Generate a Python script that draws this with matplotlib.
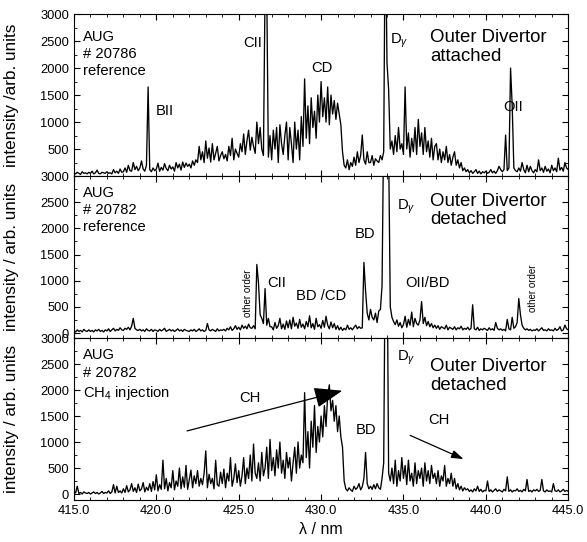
import numpy as np
import matplotlib.pyplot as plt
from matplotlib.ticker import MultipleLocator, FormatStrFormatter

plt.rcParams['font.family'] = ['Liberation Sans', 'DejaVu Sans']
plt.rcParams['mathtext.fontset'] = 'custom'
plt.rcParams['mathtext.rm'] = 'Liberation Sans'
plt.rcParams['mathtext.it'] = 'Liberation Sans:italic'

# wavelength grid, 0.1 nm steps
wavelength = np.round(np.linspace(415.0, 445.0, 301), 1)

# AUG #20786, outer divertor attached (one row per nm)
attached = [
    60, 40, 70, 50, 30, 80, 50, 60, 40, 70,
    50, 90, 40, 60, 110, 50, 40, 70, 60, 50,
    80, 50, 60, 40, 120, 60, 90, 50, 130, 70,
    80, 150, 70, 200, 100, 90, 250, 120, 180, 100,
    150, 280, 130, 90, 200, 1650, 120, 80, 150, 100,
    130, 240, 90, 160, 110, 230, 140, 100, 200, 130,
    170, 90, 250, 150, 220, 110, 260, 160, 240, 180,
    220, 150, 280, 200, 300, 250, 550, 300, 450, 250,
    650, 330, 520, 260, 600, 300, 420, 550, 280, 380,
    450, 320, 400, 280, 550, 380, 700, 300, 500, 420,
    350, 600, 450, 780, 400, 650, 850, 480, 720, 550,
    420, 1000, 600, 900, 500, 380, 3500, 3500, 350, 750,
    300, 850, 500, 900, 250, 950, 600, 400, 750, 1000,
    300, 900, 600, 250, 1000, 500, 850, 300, 1100, 550,
    1800, 700, 1300, 600, 1450, 900, 1200, 700, 1500, 1000,
    1750, 1100, 1450, 1000, 1650, 950, 1500, 1150, 1400, 1050,
    1350, 1150, 950, 450, 200, 150, 300, 120, 250, 180,
    350, 200, 450, 250, 380, 760, 300, 220, 450, 250,
    250, 380, 200, 320, 280, 250, 380, 300, 450, 5000,
    2100, 1600, 500, 650, 400, 750, 450, 900, 500, 600,
    400, 1650, 500, 800, 350, 700, 450, 900, 400, 1050,
    550, 800, 400, 900, 450, 650, 350, 700, 300, 550,
    600, 300, 500, 250, 450, 300, 550, 250, 400, 200,
    350, 450, 200, 300, 150, 250, 100, 150, 80, 120,
    60, 100, 50, 80, 120, 50, 90, 40, 80, 60,
    90, 50, 70, 120, 60, 90, 50, 100, 180, 120,
    80, 120, 760, 100, 150, 2000, 1300, 150, 100, 80,
    150, 90, 250, 120, 60, 200, 80, 180, 100, 60,
    120, 80, 300, 100, 150, 70, 180, 90, 130, 60,
    200, 100, 150, 80, 330, 110, 160, 90, 250, 150,
    120,
]

# AUG #20782, reference, outer divertor detached
detached = [
    40, 20, 60, 30, 50, 20, 70, 40, 30, 60,
    30, 50, 20, 60, 40, 70, 30, 50, 20, 60,
    40, 80, 30, 60, 90, 40, 70, 50, 100, 60,
    50, 90, 70, 110, 60, 130, 280, 90, 60, 50,
    70, 40, 60, 30, 80, 50, 40, 70, 30, 60,
    50, 30, 70, 40, 60, 90, 30, 50, 70, 40,
    60, 30, 50, 80, 40, 60, 30, 70, 50, 40,
    30, 60, 40, 70, 30, 50, 80, 40, 60, 30,
    50, 180, 60, 40, 70, 50, 30, 80, 40, 60,
    50, 70, 40, 90, 60, 120, 50, 80, 140, 70,
    110, 60, 150, 90, 130, 80, 170, 100, 90, 140,
    80, 1310, 960, 350, 280, 180, 850, 150, 280, 120,
    120, 60, 200, 90, 140, 280, 80, 170, 70, 230,
    100, 250, 80, 300, 130, 190, 90, 260, 110, 170,
    80, 220, 120, 330, 100, 180, 70, 280, 120, 160,
    90, 240, 110, 320, 150, 80, 210, 100, 180, 70,
    140, 60, 110, 50, 90, 60, 150, 70, 100, 60,
    110, 150, 80, 120, 90, 100, 1350, 800, 380, 250,
    450, 300, 250, 380, 200, 420, 450, 900, 4000, 5000,
    5000, 3500, 500, 300, 220, 160, 250, 130, 200, 100,
    160, 320, 110, 260, 150, 400, 120, 280, 180, 150,
    250, 600, 180, 300, 140, 220, 120, 180, 100, 150,
    90, 140, 70, 120, 100, 80, 150, 60, 110, 90,
    70, 120, 60, 100, 80, 130, 60, 90, 70, 110,
    60, 90, 540, 80, 60, 110, 50, 80, 60, 90,
    70, 50, 100, 60, 80, 50, 200, 90, 60, 80,
    50, 70, 40, 260, 80, 60, 300, 90, 120, 200,
    660, 350, 150, 90, 60, 80, 50, 70, 40, 60,
    50, 80, 40, 70, 100, 50, 60, 40, 80, 50,
    60, 40, 90, 50, 70, 120, 40, 60, 150, 80,
    60,
]

# AUG #20782, CH4 injection, outer divertor detached
ch4 = [
    60, 20, 150, 10, 30, 0, 40, 20, 10, 30,
    0, 20, 40, 10, 30, 0, 20, 50, 10, 30,
    20, 60, 10, 40, 180, 20, 150, 30, 60, 20,
    100, 30, 160, 40, 80, 200, 50, 120, 30, 190,
    60, 100, 220, 40, 130, 70, 200, 50, 240, 80,
    370, 60, 180, 90, 650, 100, 300, 60, 220, 120,
    450, 80, 250, 150, 500, 100, 330, 130, 550, 90,
    280, 460, 120, 350, 200, 450, 150, 300, 180, 400,
    830, 120, 380, 200, 300, 100, 650, 180, 150, 420,
    200, 480, 120, 400, 250, 700, 150, 300, 580, 220,
    450, 150, 350, 700, 200, 500, 300, 750, 250, 960,
    400, 300, 600, 250, 800, 350, 500, 900, 300, 1050,
    450, 700, 350, 850, 500, 1000, 400, 650, 300, 800,
    500, 700, 250, 600, 900, 400, 1000, 500, 750, 600,
    1950, 700, 1200, 500, 1400, 900, 1700, 800, 1300, 1000,
    1500, 1100, 1700, 1300, 1900, 2100, 1600, 1800, 1400, 1700,
    1200, 1500, 1100, 900, 250, 100, 60, 120, 80, 50,
    150, 90, 120, 200, 80, 140, 300, 800, 200, 100,
    150, 90, 180, 100, 200, 120, 90, 300, 600, 5000,
    5000, 400, 250, 500, 200, 650, 150, 450, 250, 700,
    300, 550, 180, 650, 250, 400, 150, 600, 200, 450,
    300, 500, 150, 600, 250, 450, 200, 550, 300, 400,
    200, 450, 150, 350, 250, 550, 150, 300, 200, 400,
    150, 300, 100, 200, 80, 150, 60, 120, 80, 100,
    50, 80, 40, 100, 60, 150, 50, 90, 40, 70,
    60, 250, 50, 80, 40, 70, 100, 50, 80, 60,
    40, 90, 60, 330, 50, 80, 40, 70, 60, 100,
    50, 70, 40, 90, 60, 280, 50, 70, 40, 80,
    60, 90, 50, 70, 280, 60, 40, 80, 50, 60,
    40, 200, 60, 50, 80, 40, 60, 90, 50, 70,
    50,
]

spectra = [attached, detached, ch4]
ylabels = ["intensity /arb. units", "intensity / arb. units", "intensity / arb. units"]
ybottoms = [0, -96, -115]

fig, axes = plt.subplots(3, 1, figsize=(5.87, 5.42), dpi=100, sharex=True)
fig.subplots_adjust(left=0.126, right=0.968, top=0.974, bottom=0.0775, hspace=0)

for ax, spec, lab, yb in zip(axes, spectra, ylabels, ybottoms):
    ax.plot(wavelength, spec, color='black', lw=0.95)
    ax.set_xlim(415, 445)
    ax.set_ylim(yb, 3000)
    ax.set_yticks(range(0, 3001, 500))
    ax.yaxis.set_minor_locator(MultipleLocator(250))
    ax.xaxis.set_major_locator(MultipleLocator(5))
    ax.xaxis.set_minor_locator(MultipleLocator(1))
    ax.xaxis.set_major_formatter(FormatStrFormatter('%.1f'))
    ax.tick_params(which='both', direction='in', top=True, right=True, labelsize=9.3)
    ax.tick_params(which='major', length=4)
    ax.tick_params(which='minor', length=2.5)
    ax.set_ylabel(lab, fontsize=12.3)
    ax.yaxis.set_label_coords(-0.112, 0.5)

axes[0].set_yticks(range(500, 3001, 500))
axes[2].set_xlabel("λ / nm", fontsize=11.5)

fs = 10.6
big = 13.4

# top panel
ax = axes[0]
ax.text(0.018, 0.753, "AUG\n# 20786\nreference", transform=ax.transAxes, fontsize=fs,
        va='center', linespacing=1.3)
ax.text(0.183, 0.40, "BII", transform=ax.transAxes, fontsize=fs, ha='center', va='center')
ax.text(0.362, 0.82, "CII", transform=ax.transAxes, fontsize=fs, ha='center', va='center')
ax.text(0.502, 0.667, "CD", transform=ax.transAxes, fontsize=fs, ha='center', va='center')
ax.text(0.64, 0.833, "D$_\\gamma$", transform=ax.transAxes, fontsize=fs, va='center')
ax.text(0.721, 0.796, "Outer Divertor\nattached", transform=ax.transAxes, fontsize=big,
        va='center', linespacing=1.1)
ax.text(0.889, 0.426, "OII", transform=ax.transAxes, fontsize=fs, ha='center', va='center')

# middle panel
ax = axes[1]
ax.text(0.018, 0.79, "AUG\n# 20782\nreference", transform=ax.transAxes, fontsize=fs,
        va='center', linespacing=1.3)
ax.text(0.352, 0.278, "other order", transform=ax.transAxes, fontsize=7, rotation=90,
        ha='center', va='center')
ax.text(0.411, 0.34, "CII", transform=ax.transAxes, fontsize=fs, ha='center', va='center')
ax.text(0.5, 0.259, "BD /CD", transform=ax.transAxes, fontsize=fs, ha='center', va='center')
ax.text(0.589, 0.642, "BD", transform=ax.transAxes, fontsize=fs, ha='center', va='center')
ax.text(0.654, 0.809, "D$_\\gamma$", transform=ax.transAxes, fontsize=fs, va='center')
ax.text(0.721, 0.787, "Outer Divertor\ndetached", transform=ax.transAxes, fontsize=big,
        va='center', linespacing=1.1)
ax.text(0.716, 0.34, "OII/BD", transform=ax.transAxes, fontsize=fs, ha='center', va='center')
ax.text(0.929, 0.309, "other order", transform=ax.transAxes, fontsize=7, rotation=90,
        ha='center', va='center')

# bottom panel
ax = axes[2]
ax.text(0.018, 0.772, "AUG\n# 20782\nCH$_4$ injection", transform=ax.transAxes, fontsize=fs,
        va='center', linespacing=1.3)
ax.text(0.356, 0.63, "CH", transform=ax.transAxes, fontsize=fs, ha='center', va='center')
ax.text(0.591, 0.432, "BD", transform=ax.transAxes, fontsize=fs, ha='center', va='center')
ax.text(0.654, 0.877, "D$_\\gamma$", transform=ax.transAxes, fontsize=fs, va='center')
ax.text(0.721, 0.765, "Outer Divertor\ndetached", transform=ax.transAxes, fontsize=big,
        va='center', linespacing=1.1)
ax.text(0.739, 0.494, "CH", transform=ax.transAxes, fontsize=fs, ha='center', va='center')
ax.annotate("", xy=(431.45, 2000), xytext=(421.7, 1200),
            arrowprops=dict(arrowstyle='-|>,head_length=1.1,head_width=0.4',
                            color='black', lw=0.9, mutation_scale=16))
ax.annotate("", xy=(438.8, 650), xytext=(435.25, 1150),
            arrowprops=dict(arrowstyle='-|>,head_length=0.6,head_width=0.2',
                            color='black', lw=0.9, mutation_scale=12))

fig.savefig("out.png", dpi=100)
